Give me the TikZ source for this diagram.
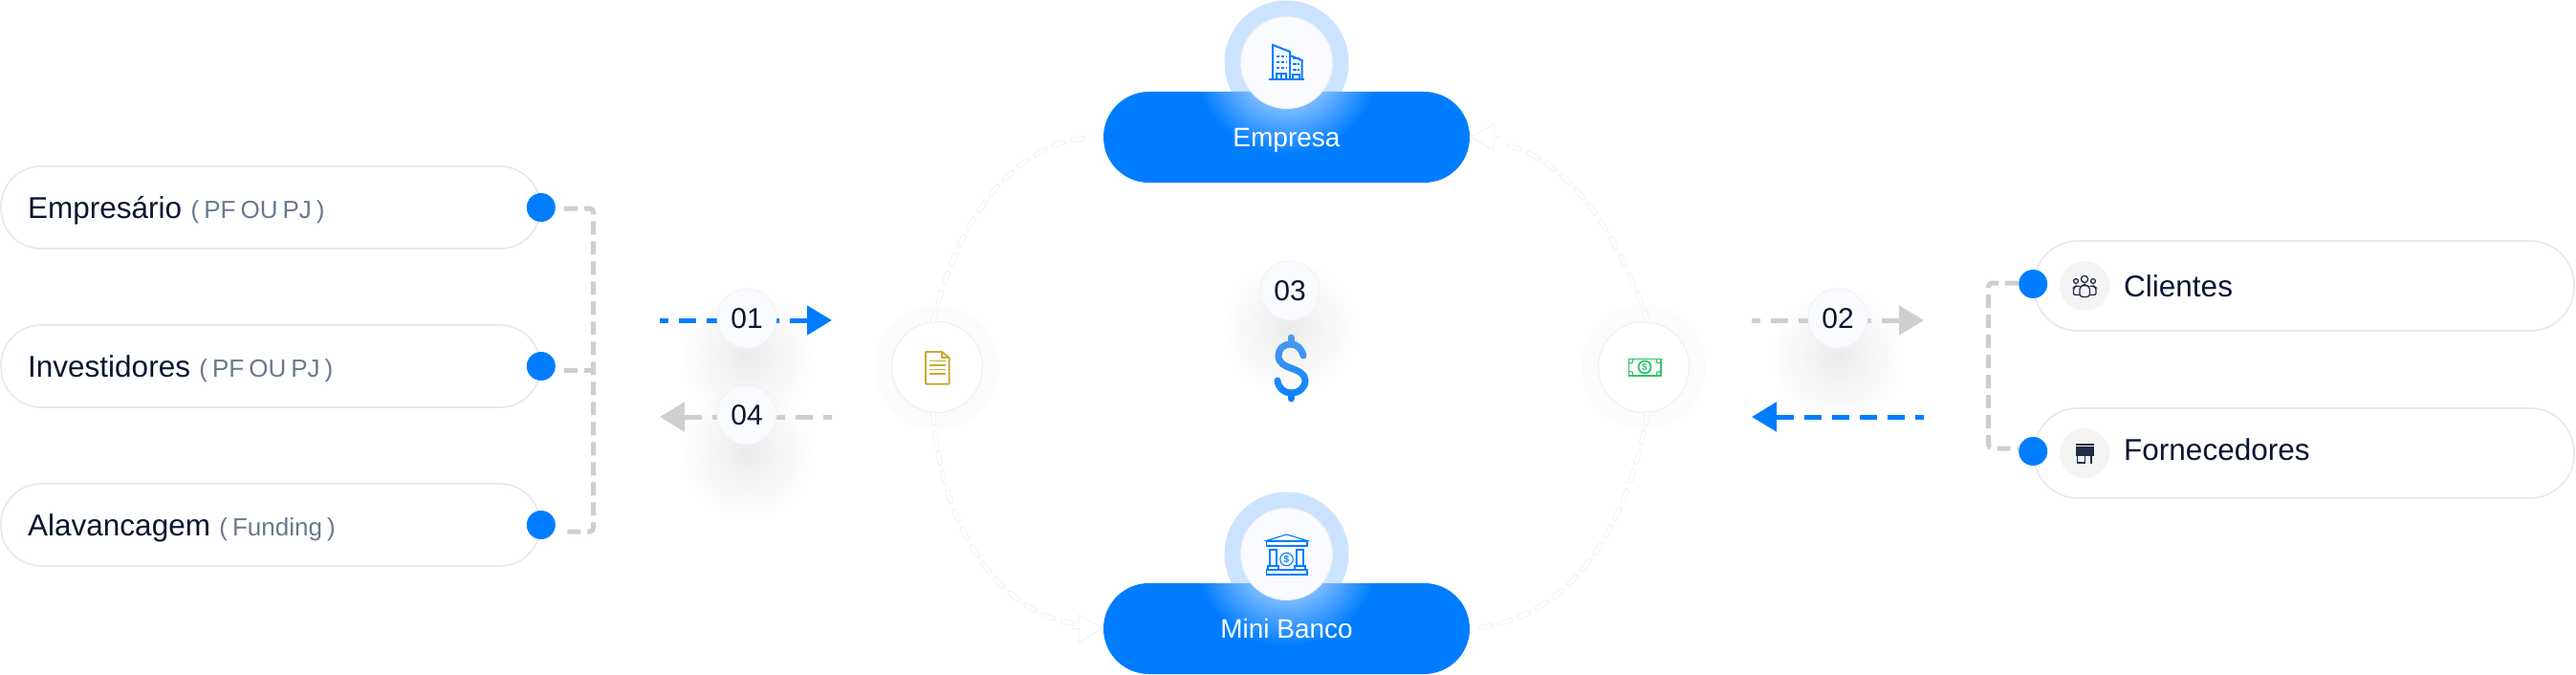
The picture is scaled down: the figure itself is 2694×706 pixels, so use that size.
\documentclass[tikz,border=0pt]{standalone}
\usepackage{fontspec}
\setmainfont{Liberation Sans}
\usetikzlibrary{arrows.meta,calc,fadings,positioning}
\definecolor{Ink}{HTML}{0B1533}
\definecolor{Azure}{HTML}{007DFF}
\definecolor{Halo}{HTML}{CCE3FF}
\definecolor{Paper}{HTML}{F9FBFE}
\definecolor{Edge}{HTML}{E6E8EC}
\definecolor{SubGray}{HTML}{6B7890}
\definecolor{LinkGray}{HTML}{CDCFCE}
\definecolor{RingGray}{HTML}{F1F2F3}
\definecolor{RingFill}{HTML}{FCFCFC}
\definecolor{Chip}{HTML}{F4F4F5}
\definecolor{Gold}{HTML}{C8AA35}
\definecolor{Leaf}{HTML}{2FC46A}
\newcommand{\tightspaces}{\spaceskip=5pt\relax}
\tikzfading[name=softshade,inner color=transparent!92,outer color=transparent!100]
\tikzfading[name=hubglow,inner color=transparent!5,outer color=transparent!100]
\tikzfading[name=dollarfade,top color=transparent!65,bottom color=transparent!100]
\tikzset{
  sidepill/.style={
    rounded corners=42pt, draw=Edge, line width=1.6pt, fill=white,
    minimum height=86pt, inner sep=0pt
  },
  endpill/.style={sidepill, rounded corners=46pt, minimum height=94pt},
  hubpill/.style={
    rounded corners=47.5pt, fill=Azure, minimum width=383pt,
    minimum height=95pt, inner sep=0pt
  },
  hublabel/.style={
    text=white, font=\fontsize{28}{32}\selectfont, inner sep=0pt,
    text height=20pt, text depth=0pt
  },
  halo/.style={circle, fill=Halo, minimum size=130pt, inner sep=0pt},
  hubcore/.style={circle, fill=Paper, draw=Edge!70, line width=1pt, minimum size=96pt, inner sep=0pt},
  ringdisc/.style={circle, fill=RingFill, minimum size=130pt, inner sep=0pt},
  ringcore/.style={circle, fill=white, draw=Edge!70, line width=1pt, minimum size=95pt, inner sep=0pt},
  badge/.style={
    circle, fill=Paper, draw=Edge!60, line width=0.8pt, minimum size=62pt,
    inner sep=0pt, text=Ink, font=\fontsize{30}{34}\selectfont
  },
  portdot/.style={circle, fill=Azure, minimum size=30pt, inner sep=0pt},
  iconchip/.style={circle, fill=Chip, minimum size=52pt, inner sep=0pt},
  maintext/.style={
    anchor=base west, text=Ink, inner sep=0pt, font=\fontsize{31.5}{36}\selectfont
  },
  subtext/.style={
    text=SubGray, inner sep=0pt, font=\fontsize{26}{30}\selectfont\tightspaces
  },
  linkflow/.style={draw=LinkGray, line width=5pt, dash pattern=on 14pt off 7pt, rounded corners=4pt},
  grayflow/.style={
    draw=LinkGray, line width=5pt, dash pattern=on 18pt off 11pt, dash phase=9pt,
    -{Triangle[length=26pt,width=30pt,fill=LinkGray]}
  },
  blueflow/.style={
    draw=Azure, line width=5pt, dash pattern=on 18pt off 11pt, dash phase=9pt,
    -{Triangle[length=26pt,width=30pt,fill=Azure]}
  },
  ringflow/.style={
    draw=RingGray, line width=0.9pt, double=white, double distance=3.6pt,
    line cap=round, dash pattern=on 11pt off 10pt
  },
  ringhead/.style={
    draw=RingGray, line width=0.9pt,
    -{Triangle[open,length=26pt,width=30pt,line width=0.9pt]}
  },
  shade/.style={fill=black, path fading=softshade},
  iconblue/.style={draw=Azure, line width=2pt},
  icondark/.style={draw=Ink!90, line width=1.3pt}
}

\begin{document}
\begin{tikzpicture}[x=1pt,y=-1pt]
  \useasboundingbox (0,0) rectangle (2694,706);
  \fill[white] (0,0) rectangle (2694,706);

  \fill[shade] (781,372) circle (70);
  \fill[shade] (781,473) circle (70);
  \fill[shade] (1922,372) circle (70);

  \node[sidepill,minimum width=564pt] (pillA) at (283,217) {};
  \node[sidepill,minimum width=564pt] (pillB) at (283,383) {};
  \node[sidepill,minimum width=564pt] (pillC) at (283,549) {};
  \node[endpill,minimum width=565pt] (pillD) at (2409.5,299) {};
  \node[endpill,minimum width=565pt] (pillE) at (2409.5,474) {};

  \node[maintext] (textA) at (29,228) {Empresário};
  \node[subtext,base right=9pt of textA] {( PF OU PJ )};
  \node[maintext] (textB) at (29,394) {Investidores};
  \node[subtext,base right=9pt of textB] {( PF OU PJ )};
  \node[maintext] (textC) at (29,560) {Alavancagem};
  \node[subtext,base right=9pt of textC] {( Funding )};

  \node[portdot] (dotA) at (pillA.east) {};
  \node[portdot] (dotB) at (pillB.east) {};
  \node[portdot] (dotC) at (pillC.east) {};
  \node[portdot] (dotD) at ($(pillD.west)+(0,-2)$) {};
  \node[portdot] (dotE) at ($(pillE.west)+(0,-2)$) {};

  \coordinate (lnkA) at (590,218);
  \coordinate (lnkB) at (590,387);
  \coordinate (lnkC) at (590,556);
  \coordinate (busA) at (620.5,218);
  \coordinate (busB) at (620.5,387);
  \coordinate (busC) at (620.5,556);
  \draw[linkflow] (lnkA) -- (busA) -- (busC) -- (lnkC);
  \draw[linkflow] (lnkB) -- (busB);
  \coordinate (busD) at (2079.5,296);
  \coordinate (busE) at (2079.5,469);
  \draw[linkflow,shorten >=15pt,shorten <=15pt] (dotD.center |- busD) -- (busD) -- (busE) -- (dotE.center |- busE);

  \coordinate (inA) at (690,335);
  \coordinate (inB) at (870,335);
  \coordinate (outA) at (870,436);
  \coordinate (outB) at (690,436);
  \coordinate (inC) at (1832,335);
  \coordinate (inD) at (2012,335);
  \coordinate (outC) at (2012,436);
  \coordinate (outD) at (1832,436);
  \draw[blueflow] (inA) -- (inB);
  \draw[grayflow] (outA) -- (outB);
  \draw[grayflow] (inC) -- (inD);
  \draw[blueflow] (outC) -- (outD);

  \node[badge] (stepA) at (781,333) {01};
  \node[badge] (stepD) at (781,434) {04};
  \node[badge] (stepB) at (1922,333) {02};

  \draw[draw=Azure,line width=7pt,line cap=round]
    (1363,372) .. controls (1361,364) and (1356,360) .. (1350,360)
    .. controls (1342,360) and (1337,365) .. (1337,372)
    .. controls (1337,380) and (1344,383) .. (1350,385)
    .. controls (1358,388) and (1365,391) .. (1365,398)
    .. controls (1365,406) and (1358,411) .. (1350,411)
    .. controls (1343,411) and (1337,406) .. (1336,398);
  \draw[draw=Azure,line width=7pt,line cap=round] (1350,353) -- (1350,360);
  \draw[draw=Azure,line width=7pt,line cap=round] (1350,411) -- (1350,417);
  \fill[white,path fading=dollarfade] (1325,345) rectangle (1375,425);
  \fill[shade] (1349,343) circle (70);
  \node[badge] (stepC) at (1349,304) {03};

  \node[halo] (empresaHalo) at (1345.5,65.5) {};
  \node[hubpill] (empresaPill) at (1345.5,143.5) {};
  \begin{scope}
    \clip[rounded corners=47.5pt] (empresaPill.north west) rectangle (empresaPill.south east);
    \fill[white,path fading=hubglow] (empresaHalo.center) circle (96);
  \end{scope}
  \node[hubcore] (empresaCore) at (empresaHalo.center) {};
  \node[hublabel] (empresaText) at (empresaPill.center) {Empresa};

  \node[halo] (bancoHalo) at (1345.5,579.5) {};
  \node[hubpill] (bancoPill) at (1345.5,657.5) {};
  \begin{scope}
    \clip[rounded corners=47.5pt] (bancoPill.north west) rectangle (bancoPill.south east);
    \fill[white,path fading=hubglow] (bancoHalo.center) circle (96);
  \end{scope}
  \node[hubcore] (bancoCore) at (bancoHalo.center) {};
  \node[hublabel] (bancoText) at (bancoPill.center) {Mini Banco};

  \node[ringdisc] (docDisc) at (980,384) {};
  \node[ringcore] (docCore) at (docDisc.center) {};
  \node[ringdisc] (cashDisc) at (1719,384) {};
  \node[ringcore] (cashCore) at (cashDisc.center) {};

  \draw[ringflow,shorten >=12pt] (docCore.95) .. controls (1005,215) and (1070,147) .. (empresaPill.west);
  \draw[ringflow,shorten >=33pt] (docCore.-95) .. controls (985,560) and (1050,640) .. (bancoPill.west);
  \draw[ringhead] (1120,657.5) -- (bancoPill.west);
  \draw[ringflow,shorten >=33pt] (cashCore.85) .. controls (1690,240) and (1640,165) .. (empresaPill.east);
  \draw[ringhead] (1570,143.5) -- (empresaPill.east);
  \draw[ringflow,shorten >=9pt] (cashCore.-85) .. controls (1700,560) and (1640,645) .. (bancoPill.east);

  \begin{scope}[iconblue]
    \draw (1327,83.5) -- (1364,83.5);
    \draw (1331,83) -- (1331,47) -- (1349,54) -- (1349,83);
    \draw (1349,58) -- (1361.5,63) -- (1361.5,83);
    \foreach \rowy in {59,65,71} {
      \draw[line width=2.4pt,dash pattern=on 3.5pt off 1.5pt] (1334.5,\rowy) -- (1346,\rowy);
      \draw[line width=2.4pt,dash pattern=on 3.5pt off 1.5pt] (1352,\rowy+2) -- (1359,\rowy+2);
    }
    \draw (1335,83) -- (1335,77) -- (1345,77) -- (1345,83);
    \draw (1340,77) -- (1340,83);
    \draw (1352,83) -- (1352,78) -- (1359,78) -- (1359,83);
  \end{scope}

  \begin{scope}[iconblue,line width=1.1pt]
    \draw (1324.5,565.5) -- (1345.5,559) -- (1367,565.5) -- cycle;
    \draw (1324.5,566) rectangle (1367,571);
    \draw (1328,571) -- (1363,571);
    \draw (1328,575) rectangle (1335,592);
    \draw (1356,575) rectangle (1363,592);
    \draw (1326,592) rectangle (1337,596);
    \draw (1354,592) rectangle (1365,596);
    \draw (1324.5,596) rectangle (1367,601);
    \draw (1345.5,585) circle (6.7);
  \end{scope}
  \node[text=Azure,inner sep=0pt,font=\fontsize{10}{10}\selectfont\bfseries] (bancoSign) at (1345.5,585) {\$};

  \begin{scope}[draw=Gold,line width=2pt,line join=round]
    \draw (985,368) -- (968,368) -- (968,401.5) -- (992.5,401.5) -- (992.5,374) -- cycle;
    \draw (985,368) -- (985,374) -- (992.5,374);
    \foreach \rowy in {377.5,382,386.5,391} {
      \draw[line width=1.5pt] (972,\rowy) -- (989,\rowy);
    }
  \end{scope}

  \begin{scope}[draw=Leaf,line width=1.8pt]
    \draw (1703.5,375.5) rectangle (1737,393);
    \draw (1720,384) circle (6.5);
    \draw[line width=1.2pt] (1703.5,380) -- (1707,379.5) -- (1708,375.5);
    \draw[line width=1.2pt] (1737,380) -- (1733,379.5) -- (1732,375.5);
    \draw[line width=1.2pt] (1703.5,388.5) -- (1707,389) -- (1708,393);
    \draw[line width=1.2pt] (1737,388.5) -- (1733,389) -- (1732,393);
  \end{scope}
  \node[text=Leaf,inner sep=0pt,font=\fontsize{10}{10}\selectfont\bfseries] (cashSign) at (1720,384) {\$};

  \node[iconchip] (chipD) at (2180,299) {};
  \node[iconchip] (chipE) at (2180,474) {};
  \begin{scope}[icondark]
    \draw (2180,292) circle (3.6);
    \draw (2171,294) circle (2.4);
    \draw (2189,294) circle (2.4);
    \draw[rounded corners=3pt] (2175,310.5) -- (2175,300) -- (2178,298.5) -- (2182,298.5) -- (2185.5,300) -- (2185.5,310.5) -- cycle;
    \draw[rounded corners=2pt] (2175,308.5) -- (2168.5,308.5) -- (2168.5,301) -- (2171,299) -- (2175,299.5);
    \draw[rounded corners=2pt] (2185.5,308.5) -- (2192,308.5) -- (2192,301) -- (2189.5,299) -- (2185.5,299.5);
  \end{scope}
  \fill[Ink!90] (2171,463.5) rectangle (2189.5,465.5);
  \fill[Ink!90] (2170.5,467) rectangle (2190,477);
  \begin{scope}[icondark,line width=1.6pt]
    \draw (2172.5,477) -- (2172.5,484) -- (2180.5,484) -- (2180.5,477);
    \draw (2187,477) -- (2187,484.5);
  \end{scope}

  \node[maintext] (textD) at (2221,310) {Clientes};
  \node[maintext] (textE) at (2221,481.5) {Fornecedores};
\end{tikzpicture}
\end{document}
